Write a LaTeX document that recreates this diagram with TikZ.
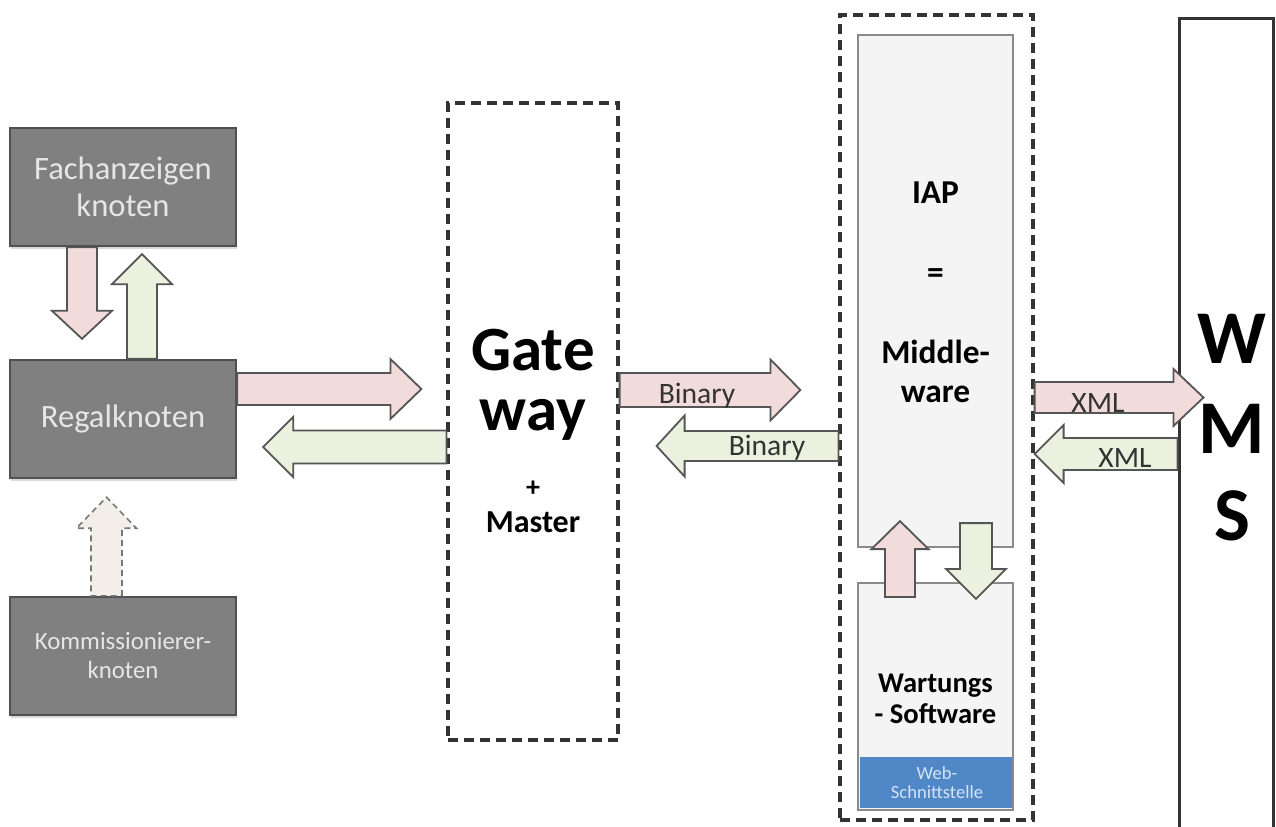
\documentclass[tikz,border=0pt]{standalone}
\usepackage{fontspec}
\setmainfont{Carlito}
\usetikzlibrary{calc,shadows}

\definecolor{nodegray}{HTML}{808080}
\definecolor{nodeedge}{HTML}{505050}
\definecolor{nodetext}{HTML}{E6E6E6}
\definecolor{pinkfill}{HTML}{F2DCDB}
\definecolor{greenfill}{HTML}{EBF1DE}
\definecolor{beigefill}{HTML}{F3EEE8}
\definecolor{arrowedge}{HTML}{555555}
\definecolor{panelfill}{HTML}{F4F4F4}
\definecolor{paneledge}{HTML}{8A8A8A}
\definecolor{webblue}{HTML}{4F87C7}
\definecolor{webtext}{HTML}{D6E3F3}
\definecolor{frame}{HTML}{333333}
\definecolor{labeltext}{HTML}{333333}

% Block arrow from #2 to #3 (tip), style #1,
% half shaft width #4, half head width #5, head length #6 (all in px units)
\newcommand\blockarrow[6]{%
  \path let \p1=(#2), \p2=(#3) in
    \pgfextra{%
      \pgfmathsetmacro\baang{atan2(\y2-\y1,\x2-\x1)}%
      \pgfmathsetmacro\balen{veclen(\x2-\x1,\y2-\y1)}%
      \xdef\baang{\baang}\xdef\balen{\balen}%
      \xdef\bax{\x1}\xdef\bay{\y1}};
  \begin{scope}[shift={(\bax,\bay)}, rotate=\baang]
    \path[#1] (0pt,{-(#4)*0.5pt})
      -- ({\balen pt-(#6)*0.5pt},{-(#4)*0.5pt})
      -- ({\balen pt-(#6)*0.5pt},{-(#5)*0.5pt})
      -- ({\balen pt},0pt)
      -- ({\balen pt-(#6)*0.5pt},{(#5)*0.5pt})
      -- ({\balen pt-(#6)*0.5pt},{(#4)*0.5pt})
      -- (0pt,{(#4)*0.5pt}) -- cycle;
  \end{scope}}

\tikzset{
  graybox/.style={fill=nodegray, draw=nodeedge, line width=1.2pt, text=nodetext,
    minimum width=113pt, minimum height=59pt, inner sep=0pt, align=center,
    drop shadow={shadow xshift=0.4pt, shadow yshift=-1.5pt, opacity=0.3}},
  dashbox/.style={draw=frame, fill=white, line width=1.6pt, dash pattern=on 5pt off 3pt,
    inner sep=0pt},
  panel/.style={fill=panelfill, draw=paneledge, line width=1.1pt, inner sep=0pt},
  pinkarrow/.style={fill=pinkfill, draw=arrowedge, line width=0.9pt},
  greenarrow/.style={fill=greenfill, draw=arrowedge, line width=0.9pt},
  beigearrow/.style={fill=beigefill, draw=arrowedge!80, line width=0.8pt, densely dashed},
  lbl/.style={text=labeltext, inner sep=0pt, anchor=base, font=\fontsize{14.8}{17}\selectfont},
  boldtext/.style={inner sep=0pt, anchor=base, text=black},
}

\begin{document}
\begin{tikzpicture}[x=0.5pt, y=-0.5pt]
  \useasboundingbox (0,0) rectangle (1276,826);
  \clip (0,0) rectangle (1276,826);

  % left column of field nodes
  \node[graybox, font=\fontsize{16.3}{18.5}\selectfont] (fach) at (123,187) {Fachanzeigen\\knoten};
  \node[graybox, font=\fontsize{16.3}{18.5}\selectfont] (regal) at (123,419) {\raisebox{-1.5pt}{Regalknoten}};
  \node[graybox, font=\fontsize{12.4}{14.5}\selectfont] (kom) at (123,656) {Kommissionierer-\\knoten};

  % gateway
  \node[dashbox, minimum width=85pt, minimum height=318.5pt] (gw) at (533,421.5) {};
  \node[boldtext, font=\bfseries\fontsize{31.5}{31.5}\selectfont] (gate) at (533,370) {Gate};
  \node[boldtext, font=\bfseries\fontsize{31.5}{31.5}\selectfont] (way) at (533,430) {way};
  \node[boldtext, anchor=center, font=\bfseries\fontsize{14}{14}\selectfont] (plus) at (533,489) {+};
  \node[boldtext, font=\bfseries\fontsize{16}{16}\selectfont] (master) at (533,532) {Master};

  % IAP container with middleware and maintenance software
  \node[dashbox, minimum width=96.5pt, minimum height=402.5pt] (iapo) at (936.5,417.5) {};
  \node[panel, minimum width=77.5pt, minimum height=256pt] (iap) at (935.5,291) {};
  \node[panel, minimum width=77.5pt, minimum height=113.5pt] (wart) at (935.5,696.5) {};
  \node[fill=webblue, inner sep=0pt, minimum width=76pt, minimum height=25.5pt] (web) at (936,782.5) {};

  \node[boldtext, font=\bfseries\fontsize{16.7}{16.7}\selectfont] (iaptxt) at (935.5,203) {IAP};
  \node[boldtext, anchor=center, font=\bfseries\fontsize{16.7}{16.7}\selectfont] (eqtxt) at (935.5,276) {=};
  \node[boldtext, font=\bfseries\fontsize{16.7}{16.7}\selectfont] (midtxt) at (935.5,363) {Middle-};
  \node[boldtext, font=\bfseries\fontsize{16.7}{16.7}\selectfont] (waretxt) at (935.5,402) {ware};
  \node[boldtext, font=\bfseries\fontsize{14.3}{14.3}\selectfont] (warttxt) at (935.5,692) {Wartungs};
  \node[boldtext, font=\bfseries\fontsize{14.3}{14.3}\selectfont] (softtxt) at (935.5,723) {- Software};
  \node[inner sep=0pt, anchor=base, text=webtext, font=\fontsize{9.3}{9.3}\selectfont] (webtxt1) at (937,779) {Web-};
  \node[inner sep=0pt, anchor=base, text=webtext, font=\fontsize{9.3}{9.3}\selectfont] (webtxt2) at (937,798) {Schnittstelle};

  % warehouse management system
  \node[draw=frame, fill=white, line width=1.5pt, inner sep=0pt, minimum width=47pt, minimum height=416pt] (wms) at (1226,434) {};
  \node[boldtext, font=\bfseries\fontsize{38}{38}\selectfont] (wtxt) at (1232,363) {W};
  \node[boldtext, font=\bfseries\fontsize{38}{38}\selectfont] (mtxt) at (1232,453) {M};
  \node[boldtext, font=\bfseries\fontsize{38}{38}\selectfont] (stxt) at (1232,540) {S};

  % connectors between field nodes
  \blockarrow{pinkarrow}{$(fach.south)+(-41,0)$}{$(regal.north)+(-41,-20)$}{15}{30}{28}
  \blockarrow{greenarrow}{$(regal.north)+(19,0)$}{$(fach.south)+(19,7)$}{15}{30}{30}
  \blockarrow{beigearrow}{$(kom.north)+(-16.5,0)$}{$(regal.south)+(-16.5,18)$}{15.5}{30}{31}

  % connectors to and from the gateway
  \blockarrow{pinkarrow}{$(regal.east)+(0,-30)$}{$(gw.west)+(-25,-32.5)$}{16}{30}{31}
  \blockarrow{greenarrow}{$(gw.west)+(0,25.5)$}{$(regal.east)+(26,28)$}{16.5}{30}{30}

  % binary link between gateway and IAP
  \blockarrow{pinkarrow}{$(gw.east)+(0,-31.5)$}{$(iapo.west)+(-38,-27.5)$}{17}{30.5}{30}
  \blockarrow{greenarrow}{$(iapo.west)+(0,28.5)$}{$(gw.east)+(37,24.5)$}{15}{30.5}{28}
  \node[lbl] (bin1) at (697,403) {Binary};
  \node[lbl] (bin2) at (767,455) {Binary};

  % XML link between IAP and WMS
  \blockarrow{pinkarrow}{$(iapo.east)+(0,-20)$}{$(wms.west)+(26,-36.5)$}{15.5}{28.5}{30}
  \blockarrow{greenarrow}{$(wms.west)+(0,20)$}{$(iapo.east)+(0,36.5)$}{16}{29}{29}
  \node[lbl] (xml1) at (1098,412) {XML};
  \node[lbl] (xml2) at (1125,467) {XML};

  % middleware and maintenance software
  \blockarrow{pinkarrow}{$(wart.north)+(-35.5,15)$}{$(iap.south)+(-35.5,-27)$}{15}{28.5}{28}
  \blockarrow{greenarrow}{$(iap.south)+(40.5,-25)$}{$(wart.north)+(40.5,17)$}{16}{30}{30}
\end{tikzpicture}
\end{document}
